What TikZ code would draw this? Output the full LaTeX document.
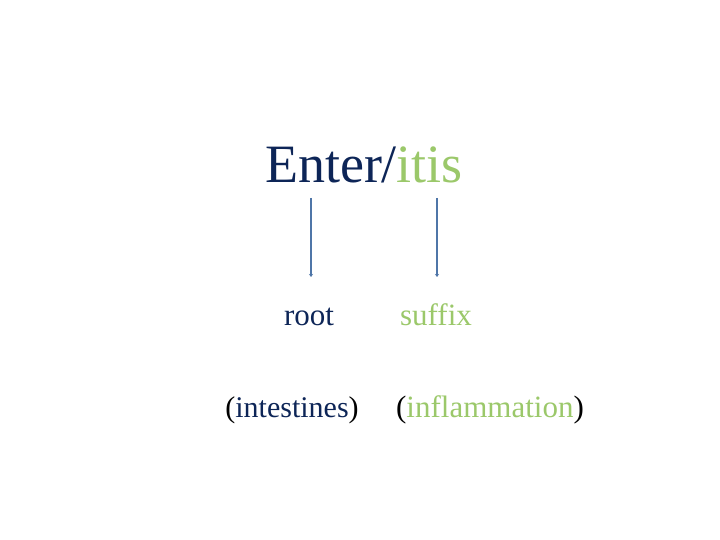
\documentclass[tikz,border=0pt]{standalone}
\usepackage{fontspec}
\setmainfont{Liberation Serif}
\usetikzlibrary{arrows.meta}
\definecolor{navy}{HTML}{0D2557}
\definecolor{leaf}{HTML}{9BC86A}
\definecolor{steel}{HTML}{4F76A8}
\tikzset{word/.style={inner sep=0pt,anchor=base},
  pointer/.style={draw=steel,line width=1.4pt,-{Stealth[length=3pt,width=4pt]}}}
\begin{document}
\begin{tikzpicture}[x=1pt,y=-1pt]
\useasboundingbox (0,0) rectangle (720,540);
\node[word,font=\fontsize{54}{60}\selectfont] (term) at (364,183) {\textcolor{navy}{Enter/}\textcolor{leaf}{itis}};
\node[word,font=\fontsize{31}{36}\selectfont,text=navy] (root) at (309,325) {root};
\node[word,font=\fontsize{31}{36}\selectfont,text=leaf] (suffix) at (436,325) {suffix};
\node[word,font=\fontsize{30}{36}\selectfont] (rootmean) at (292,417) {(\textcolor{navy}{intestines})};
\node[word,font=\fontsize{31}{36}\selectfont] (suffixmean) at (490,417) {(\textcolor{leaf}{inflammation})};
\coordinate (roottop) at (311,198);\coordinate (rootend) at (311,277);
\coordinate (suffixtop) at (437,198);\coordinate (suffixend) at (437,277);
\draw[pointer] (roottop)--(rootend);
\draw[pointer] (suffixtop)--(suffixend);
\end{tikzpicture}
\end{document}
